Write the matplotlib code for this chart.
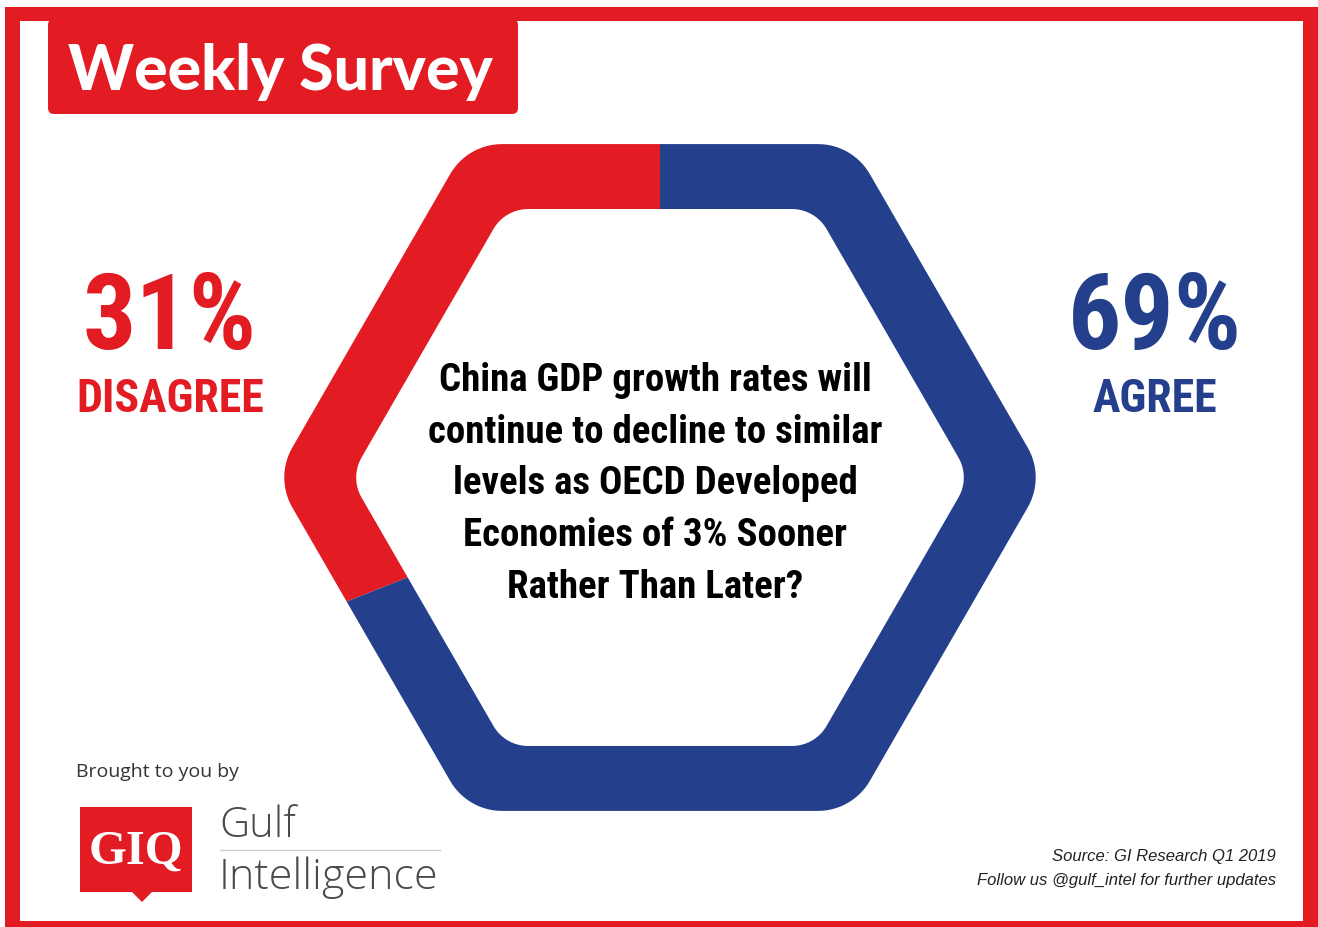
import matplotlib

matplotlib.use("Agg")
import matplotlib.pyplot as plt
import numpy as np
from matplotlib import font_manager
from matplotlib.patches import Polygon, Rectangle, FancyBboxPatch

# survey result
labels = ["DISAGREE", "AGREE"]
shares = [31, 69]
question = ("China GDP growth rates will\ncontinue to decline to similar\n"
            "levels as OECD Developed\nEconomies of 3% Sooner\nRather Than Later?")
source_lines = ["Source: GI Research Q1 2019", "Follow us @gulf_intel for further updates"]

RED = "#e31b23"
BLUE = "#243f8c"
W, H = 1318, 928


def pick_narrow():
    # prefer a condensed face if the box has one, else plain Liberation Sans
    fonts = font_manager.fontManager.ttflist
    names = {f.name for f in fonts}
    for n in ["Liberation Sans Narrow", "Roboto Condensed", "Open Sans Condensed",
              "DejaVu Sans Condensed", "Noto Sans Condensed"]:
        if n in names:
            return dict(family=n)
    for f in fonts:
        if f.stretch in ("condensed", "semi-condensed", "extra-condensed", "ultra-condensed"):
            return dict(family=f.name, fontstretch=f.stretch)
    return dict(family="Liberation Sans")


NARROW = pick_narrow()


def rounded_hex(cx, cy, R, r, n=16, **kw):
    d = R - r / np.sin(np.pi / 3)
    pts = []
    for k in range(6):
        a = np.deg2rad(60 * k)
        ox, oy = cx + d * np.cos(a), cy + d * np.sin(a)
        t = np.linspace(a - np.pi / 6, a + np.pi / 6, n)
        pts += list(zip(ox + r * np.cos(t), oy + r * np.sin(t)))
    return Polygon(pts, closed=True, **kw)


fig = plt.figure(figsize=(W / 100, H / 100), dpi=100)
ax = fig.add_axes([0, 0, 1, 1])

# outer red frame
ax.add_patch(Rectangle((5, 0), W - 5, H - 8, facecolor=RED, edgecolor="none"))
ax.add_patch(Rectangle((20, H - 922), 1283, 900, facecolor="white", edgecolor="none"))

# header banner
ax.add_patch(FancyBboxPatch((48, H - 115), 470, 95, boxstyle="round,pad=0,rounding_size=6",
                            facecolor=RED, edgecolor="none"))
ax.text(280, H - 72, "Weekly Survey", color="white", fontsize=45, fontweight="black",
        family="Lato", ha="center", va="center")

# hexagonal ring split by the shares
cx, cy = 660, H - 478.5
wedges, _ = ax.pie(shares, colors=[RED, BLUE], startangle=90, counterclock=True,
                   center=(cx, cy), radius=500, frame=True)
outer = rounded_hex(cx, cy, 385, 60, facecolor="none", edgecolor="none")
ax.add_patch(outer)
for w in wedges:
    w.set_clip_on(True)
    w.set_clip_path(outer)
ax.add_patch(rounded_hex(cx, cy, 310, 40, facecolor="white", edgecolor="none"))

ax.text(cx - 5, H - 484, question, ha="center", va="center", fontsize=28,
        fontweight="bold", linespacing=1.51, color="black", **NARROW)

# side labels
for x, lab, val, col in [(170, labels[0], shares[0], RED), (1155, labels[1], shares[1], BLUE)]:
    ax.text(x, H - 320, f"{val}%", ha="center", va="center", fontsize=76, fontweight="bold",
            color=col, **NARROW)
    ax.text(x, H - 399, lab, ha="center", va="center", fontsize=33, fontweight="bold",
            color=col, **NARROW)

# sponsor block
ax.text(76, H - 772, "Brought to you by", ha="left", va="center", fontsize=14,
        family="Open Sans", color="#333333")
ax.add_patch(Rectangle((80, H - 893), 112, 85, facecolor=RED, edgecolor="none"))
ax.add_patch(Polygon([(132, H - 893), (152, H - 893), (142, H - 903)], facecolor=RED, edgecolor="none"))
ax.text(136, H - 852, "GIQ", ha="center", va="center", fontsize=35, fontweight="bold",
        family="Liberation Serif", color="white")
ax.text(219, H - 826, "Gulf", ha="left", va="center", fontsize=30, fontweight="light",
        family="Open Sans", color="#4a4a4a")
ax.plot([220, 440], [H - 851, H - 851], color="#cccccc", lw=1)
ax.text(219, H - 878, "Intelligence", ha="left", va="center", fontsize=31, fontweight="light",
        family="Open Sans", color="#4a4a4a")

for i, line in enumerate(source_lines):
    ax.text(1276, H - 857 - 24 * i, line, ha="right", va="center", fontsize=12,
            style="italic", family="Liberation Sans", color="#222222")

ax.set_xlim(0, W)
ax.set_ylim(0, H)
ax.set_aspect("auto")
ax.axis("off")

fig.savefig("out.png", dpi=100)
